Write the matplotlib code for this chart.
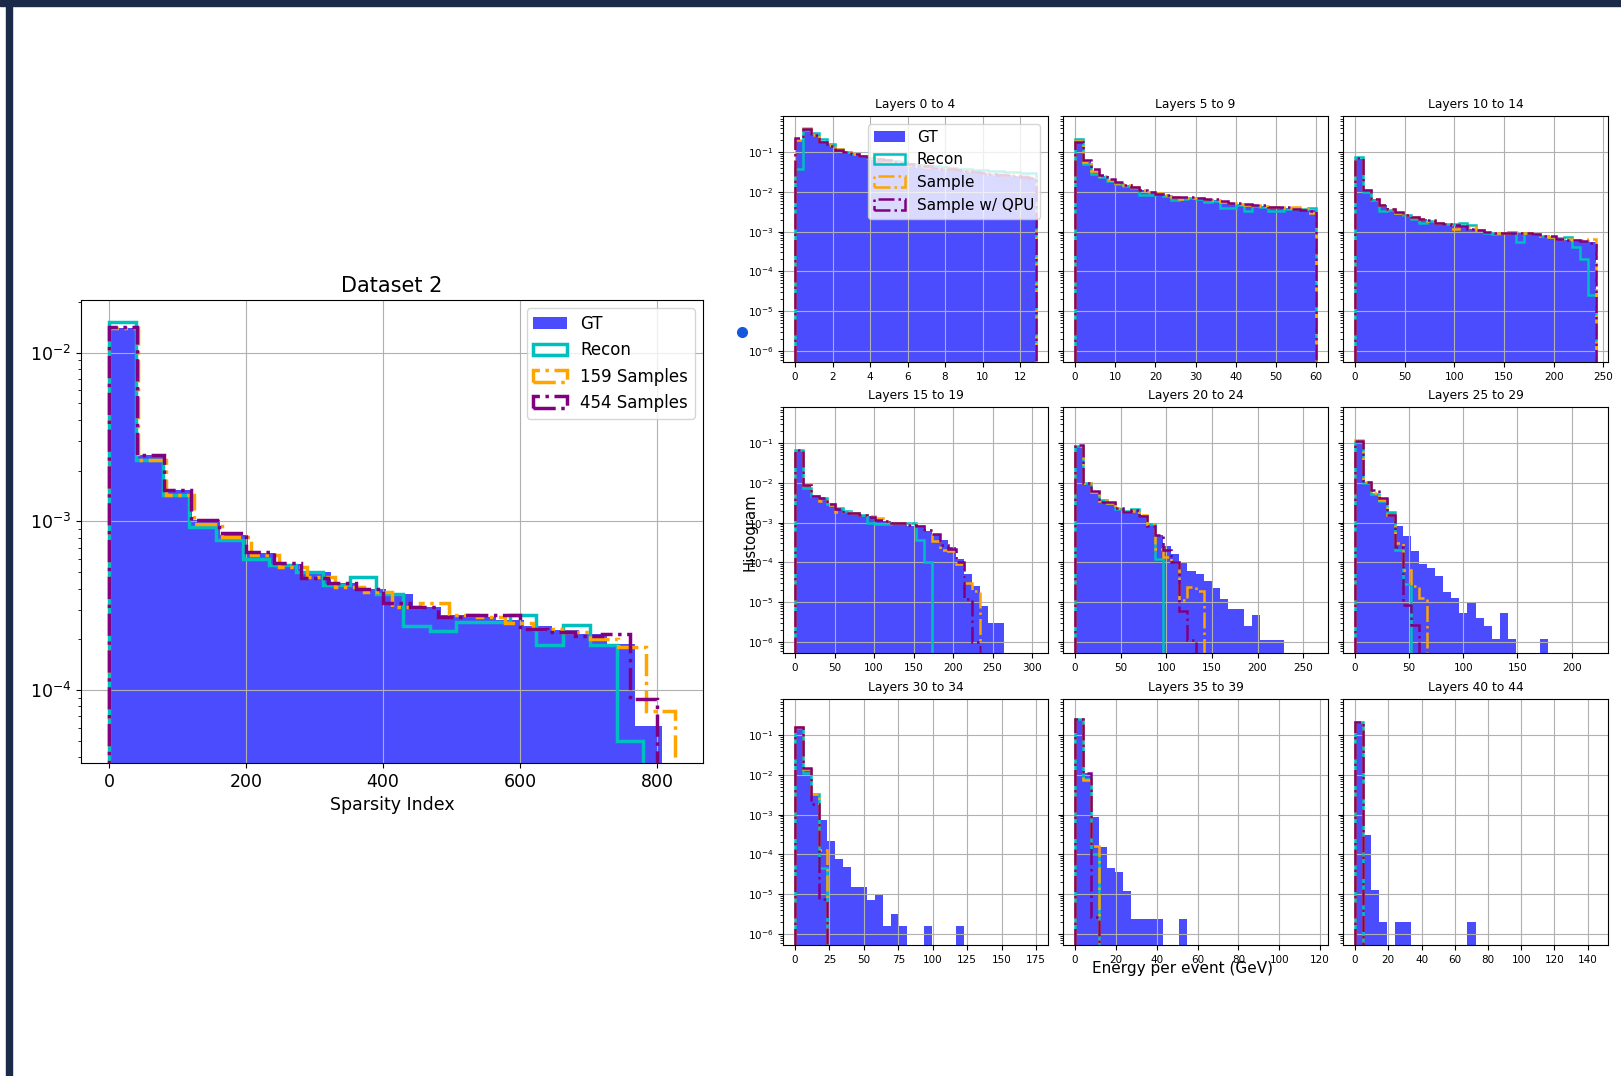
import numpy as np
import matplotlib.pyplot as plt
from matplotlib.patches import Rectangle
from matplotlib.lines import Line2D
from matplotlib.ticker import MultipleLocator

W, H = 1621, 1076

# ---- Dataset 2: sparsity index density, 20 bins per series ----
sparsity_gt = [0.0139, 0.00248, 0.00154, 0.00102, 0.00083, 0.00065, 0.00056, 0.0005, 0.00043, 0.0004,
               0.00037, 0.00031, 0.00028, 0.00027, 0.00026, 0.00024, 0.000226, 0.000216, 0.000188, 6.1e-5]
sparsity_recon = [0.0152, 0.00232, 0.00144, 0.00093, 0.00078, 0.0006, 0.00055, 0.0005, 0.00042, 0.000466,
                  0.00037, 0.00024, 0.000223, 0.000253, 0.000253, 0.000278, 0.000184, 0.000242, 0.000184, 5e-5]
sparsity_159 = [0.014, 0.00232, 0.00144, 0.00096, 0.00081, 0.00063, 0.00054, 0.00047, 0.00041, 0.00038,
                0.00031, 0.00033, 0.00028, 0.00027, 0.00025, 0.00023, 0.00022, 0.0002, 0.00018, 7.5e-5]
sparsity_454 = [0.0141, 0.00248, 0.00154, 0.00102, 0.00085, 0.00066, 0.00057, 0.00046, 0.00043, 0.0004,
                0.00033, 0.00031, 0.00027, 0.00028, 0.00028, 0.00023, 0.00022, 0.00021, 0.000216, 8.8e-5]
sparsity_max = [808, 780, 826, 800]  # gt, recon, 159 samples, 454 samples

# ---- energy per event for each group of layers (30 bins over each panel range) ----
layer_titles = ['Layers 0 to 4', 'Layers 5 to 9', 'Layers 10 to 14',
                'Layers 15 to 19', 'Layers 20 to 24', 'Layers 25 to 29',
                'Layers 30 to 34', 'Layers 35 to 39', 'Layers 40 to 44']
layer_range = [12.85, 60, 242.5, 305, 264, 222.5, 175, 118, 145]
layer_xstep = [2, 10, 50, 50, 50, 50, 25, 20, 20]

energy_gt = [
    [0.2, 0.39, 0.28, 0.19, 0.15, 0.117, 0.1, 0.09, 0.081, 0.074, 0.068, 0.063, 0.058, 0.054, 0.05,
     0.047, 0.044, 0.041, 0.039, 0.037, 0.035, 0.033, 0.031, 0.03, 0.028, 0.027, 0.026, 0.025, 0.024, 0.023],
    [0.18, 0.057, 0.033, 0.025, 0.0197, 0.017, 0.0147, 0.0128, 0.011, 0.01, 0.009, 0.0082, 0.0075, 0.0072, 0.0072,
     0.0068, 0.0065, 0.0062, 0.0056, 0.0053, 0.0051, 0.0049, 0.0046, 0.0044, 0.0042, 0.004, 0.0039, 0.0038, 0.0036, 0.0035],
    [0.069, 0.011, 0.0065, 0.0046, 0.0036, 0.003, 0.0027, 0.0023, 0.0021, 0.0019, 0.0017, 0.0016, 0.0015, 0.0014, 0.0012,
     0.0011, 0.001, 0.00086, 0.00093, 0.0009, 0.00093, 0.0009, 0.00086, 0.00075, 0.00075, 0.00065, 0.00063, 0.00058, 0.00058, 0.00055],
    [0.068, 0.0087, 0.0049, 0.0042, 0.0029, 0.0023, 0.002, 0.0018, 0.0016, 0.0015, 0.0012, 0.0011, 0.001, 0.001, 0.00084,
     0.00084, 0.00063, 0.0005, 0.00037, 0.00025, 0.00012, 5e-5, 2.5e-5, 8e-6, 3e-6, 3e-6],
    [0.086, 0.0098, 0.0063, 0.0035, 0.0032, 0.0024, 0.002, 0.0021, 0.0016, 0.00095, 0.00048, 0.00026, 0.00016, 0.0001, 6e-5,
     5e-5, 3.3e-5, 2.3e-5, 1.2e-5, 6.8e-6, 6.8e-6, 2.5e-6, 4.7e-6, 1.1e-6, 1.1e-6, 1.1e-6],
    [0.11, 0.0105, 0.0053, 0.0036, 0.0018, 0.0008, 0.00046, 0.00019, 9e-5, 7.4e-5, 4.5e-5, 1.8e-5, 1.3e-5, 5.4e-6, 9.7e-6,
     4e-6, 2.5e-6, 1.2e-6, 5.4e-6, 1.2e-6, 0, 0, 0, 1.2e-6],
    [0.16, 0.0139, 0.0033, 0.00073, 0.00022, 7.5e-5, 4.8e-5, 1.5e-5, 1.5e-5, 7e-6, 1e-5, 1.6e-6, 3.2e-6, 1.6e-6, 0,
     0, 1.6e-6, 0, 0, 0, 1.6e-6],
    [0.25, 0.0115, 0.00086, 0.00015, 4.5e-5, 3.6e-5, 1.2e-5, 2.4e-6, 2.4e-6, 2.4e-6, 2.4e-6, 0, 0, 2.4e-6],
    [0.22, 0.00031, 1.25e-5, 2e-6, 0, 2e-6, 2e-6, 0, 0, 0, 0, 0, 0, 0, 2e-6],
]
energy_recon = [
    [0.039, 0.37, 0.3, 0.21, 0.16, 0.12, 0.1, 0.088, 0.08, 0.073, 0.068, 0.064, 0.06, 0.056, 0.052,
     0.049, 0.046, 0.044, 0.042, 0.04, 0.038, 0.037, 0.036, 0.035, 0.034, 0.033, 0.032, 0.031, 0.03, 0.03],
    [0.22, 0.05, 0.029, 0.024, 0.019, 0.016, 0.014, 0.0125, 0.0085, 0.0085, 0.0088, 0.008, 0.0062, 0.0068, 0.007,
     0.0066, 0.0055, 0.006, 0.004, 0.004, 0.0047, 0.0033, 0.0045, 0.0043, 0.0034, 0.0034, 0.0038, 0.0038, 0.0037, 0.004],
    [0.076, 0.01, 0.0063, 0.0034, 0.0035, 0.003, 0.0026, 0.0021, 0.0017, 0.0019, 0.0017, 0.0016, 0.0016, 0.0017, 0.0015,
     0.0011, 0.00095, 0.00088, 0.00093, 0.001, 0.00055, 0.0009, 0.00085, 0.00078, 0.00075, 0.0007, 0.00072, 0.00041, 0.00021, 2.5e-5],
    [0.068, 0.0075, 0.0048, 0.0042, 0.0029, 0.0023, 0.002, 0.0018, 0.0016, 0.001, 0.00095, 0.00095, 0.001, 0.001, 0.001,
     0.00037, 0.0001],
    [0.086, 0.0098, 0.006, 0.0038, 0.0032, 0.0022, 0.002, 0.0022, 0.0015, 0.0009, 0.00012],
    [0.105, 0.0098, 0.0052, 0.0036, 0.0019, 0.00021, 2.8e-5],
    [0.15, 0.011, 0.0033, 4.5e-5],
    [0.25, 0.0078, 0.0001],
    [0.22],
]
energy_sample = [
    [0.2, 0.42, 0.27, 0.18, 0.15, 0.118, 0.1, 0.09, 0.08, 0.073, 0.067, 0.062, 0.057, 0.053, 0.049,
     0.046, 0.043, 0.041, 0.039, 0.037, 0.035, 0.033, 0.031, 0.03, 0.029, 0.028, 0.027, 0.026, 0.025, 0.024],
    [0.19, 0.058, 0.034, 0.025, 0.02, 0.017, 0.015, 0.013, 0.011, 0.0098, 0.0095, 0.0082, 0.0076, 0.0068, 0.0072,
     0.0069, 0.0066, 0.0063, 0.0057, 0.0053, 0.005, 0.0048, 0.0046, 0.0044, 0.0043, 0.0041, 0.004, 0.0042, 0.0037, 0.003],
    [0.07, 0.011, 0.0066, 0.0046, 0.0037, 0.003, 0.0027, 0.0023, 0.0021, 0.0019, 0.0017, 0.0016, 0.0012, 0.0014, 0.0013,
     0.0011, 0.001, 0.00092, 0.00092, 0.0009, 0.00092, 0.0009, 0.00085, 0.00078, 0.00074, 0.00066, 0.00064, 0.0006, 0.0006, 0.00067],
    [0.066, 0.0087, 0.0048, 0.0035, 0.0028, 0.0019, 0.0019, 0.0018, 0.0016, 0.0015, 0.0013, 0.0011, 0.001, 0.00098, 0.0009,
     0.00082, 0.00065, 0.00035, 0.0002, 0.00019, 9e-5, 3.1e-5, 1.9e-5],
    [0.086, 0.0098, 0.0058, 0.0036, 0.0031, 0.0024, 0.0019, 0.002, 0.0016, 0.0009, 0.00022, 0.00014, 0.0001, 1.1e-5, 2.4e-5,
     1.9e-5],
    [0.12, 0.0105, 0.0055, 0.0038, 0.0016, 0.0003, 6.5e-5, 2.5e-5, 1.3e-5],
    [0.16, 0.014, 0.0033, 0.00013],
    [0.25, 0.0075, 0.00016],
    [0.22],
]
energy_qpu = [
    [0.23, 0.38, 0.27, 0.18, 0.145, 0.115, 0.1, 0.09, 0.08, 0.074, 0.068, 0.063, 0.058, 0.054, 0.05,
     0.047, 0.044, 0.041, 0.039, 0.037, 0.035, 0.033, 0.031, 0.03, 0.028, 0.027, 0.026, 0.025, 0.024, 0.023],
    [0.18, 0.063, 0.037, 0.026, 0.021, 0.018, 0.015, 0.013, 0.0112, 0.01, 0.0091, 0.0083, 0.0076, 0.0073, 0.0073,
     0.0072, 0.0066, 0.0066, 0.0058, 0.0054, 0.0052, 0.005, 0.0047, 0.0046, 0.0043, 0.0041, 0.0041, 0.0038, 0.0036, 0.0034],
    [0.07, 0.0115, 0.0067, 0.0047, 0.0038, 0.0031, 0.0027, 0.0024, 0.0021, 0.002, 0.0017, 0.0016, 0.0015, 0.0014, 0.0012,
     0.0011, 0.001, 0.0009, 0.00093, 0.0009, 0.00093, 0.0009, 0.00088, 0.00076, 0.00078, 0.00065, 0.00063, 0.0006, 0.00058, 0.00052],
    [0.068, 0.0087, 0.0047, 0.0043, 0.003, 0.0022, 0.0018, 0.0018, 0.0016, 0.0014, 0.0012, 0.0011, 0.001, 0.001, 0.00085,
     0.00084, 0.00065, 0.00052, 0.00028, 0.00022, 0.0001, 1.2e-5, 1e-6],
    [0.088, 0.0098, 0.0062, 0.0034, 0.0034, 0.0023, 0.0019, 0.0021, 0.0015, 0.0008, 0.00048, 0.00021, 0.0001, 6e-6, 1.1e-6],
    [0.115, 0.0105, 0.0065, 0.0041, 0.0016, 0.00025, 8.6e-6, 2.7e-6],
    [0.16, 0.015, 0.0019, 7.7e-6],
    [0.25, 0.0115, 2.7e-6],
    [0.22],
]


def box(x0, y0, x1, y1):
    # pixel box (top-left origin) -> figure fraction rect
    return [x0 / W, 1 - y1 / H, (x1 - x0) / W, (y1 - y0) / H]


def draw_hists(ax, series, edges_list, labels, lw):
    styles = [dict(histtype='stepfilled', color='blue', alpha=0.7),
              dict(histtype='step', color='c', linewidth=lw),
              dict(histtype='step', color='orange', linestyle='dashdot', linewidth=lw),
              dict(histtype='step', color='purple', linestyle='dashdot', linewidth=lw)]
    for vals, edges, lab, st in zip(series, edges_list, labels, styles):
        ax.hist(edges[:-1], bins=edges, weights=vals, label=lab, **st)


fig = plt.figure(figsize=(W / 100, H / 100), dpi=100)

# screenshot frame
navy = '#1c2a4a'
fig.add_artist(Rectangle((0, 1 - 6 / H), 1, 6 / H, transform=fig.transFigure, color=navy, zorder=10))
fig.add_artist(Rectangle((6 / W, 0), 6 / W, 1, transform=fig.transFigure, color=navy, zorder=10))
fig.add_artist(Line2D([742 / W], [1 - 332 / H], marker='o', markersize=7, color='#1359e0',
                      transform=fig.transFigure))

# ---- left: sparsity index ----
ax = fig.add_axes(box(81, 300, 703, 763))
ax.set_yscale('log')
sp_series = [sparsity_gt, sparsity_recon, sparsity_159, sparsity_454]
sp_edges = [np.linspace(0, m, len(v) + 1) for v, m in zip(sp_series, sparsity_max)]
draw_hists(ax, sp_series, sp_edges, ['GT', 'Recon', '159 Samples', '454 Samples'], 2.5)
ax.set_ylim(3.7e-5, 0.0205)
ax.xaxis.set_major_locator(MultipleLocator(200))
ax.grid(True)
ax.tick_params(labelsize=12.5)
ax.set_title('Dataset 2', fontsize=15)
ax.set_xlabel('Sparsity Index', fontsize=12.5)
ax.legend(loc='upper right', fontsize=12)

# ---- right: 3x3 grid of layer groups ----
col_x = [783, 1063, 1343]
row_y = [116, 407, 699]
for i in range(9):
    r, c = divmod(i, 3)
    ax = fig.add_axes(box(col_x[c], row_y[r], col_x[c] + 265, row_y[r] + 246))
    ax.set_yscale('log')
    xmax = layer_range[i]
    full_edges = np.linspace(0, xmax, 31)
    series = [energy_gt[i], energy_recon[i], energy_sample[i], energy_qpu[i]]
    edges = [full_edges[:len(v) + 1] for v in series]
    draw_hists(ax, series, edges, ['GT', 'Recon', 'Sample', 'Sample w/ QPU'], 1.8)
    ax.set_xlim(-0.05 * xmax, 1.05 * xmax)
    ax.set_ylim(5.2e-7, 0.82)
    ax.xaxis.set_major_locator(MultipleLocator(layer_xstep[i]))
    ax.grid(True)
    ax.tick_params(labelsize=7.5)
    if c > 0:
        ax.tick_params(labelleft=False)
    ax.set_title(layer_titles[i], fontsize=8.8)
    if i == 0:
        ax.legend(loc='upper right', fontsize=11)

fig.text(750 / W, 1 - 532 / H, 'Histogram', rotation=90, ha='center', va='center', fontsize=10.7)
fig.text(1183 / W, 1 - 968 / H, 'Energy per event (GeV)', ha='center', va='center', fontsize=11)

fig.savefig('out.png', dpi=100)
